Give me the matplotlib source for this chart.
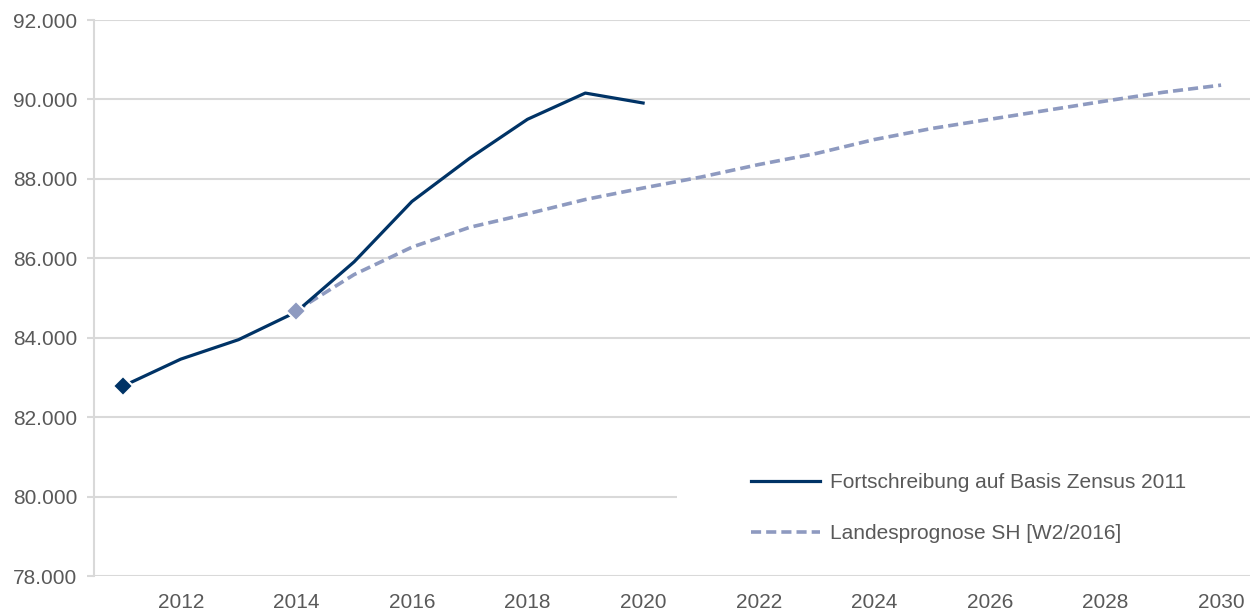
import matplotlib
matplotlib.use("Agg")
import matplotlib.pyplot as plt
from matplotlib.patches import Rectangle
from matplotlib.ticker import FuncFormatter

plt.rcParams['font.family'] = ['Liberation Sans', 'DejaVu Sans']

# Data
years_fort = [2011, 2012, 2013, 2014, 2015, 2016, 2017, 2018, 2019, 2020]
fort_values = [82780, 83460, 83950, 84650, 85910, 87430, 88520, 89500, 90160, 89910]

years_prog = list(range(2014, 2031))
prog_values = [84680, 85590, 86280, 86780, 87120, 87480, 87770, 88045, 88360,
               88640, 88990, 89270, 89500, 89730, 89960, 90180, 90360]

label_fort = "Fortschreibung auf Basis Zensus 2011"
label_prog = "Landesprognose SH [W2/2016]"
xtick_years = list(range(2012, 2031, 2))
ytick_values = list(range(78000, 92001, 2000))

navy = "#003366"
light = "#8E9AC0"
grid_c = "#D9D9D9"
text_c = "#595959"

W, H = 1252, 612
fig = plt.figure(figsize=(W / 100, H / 100), dpi=100)
ax = fig.add_axes([94 / W, 1 - 576 / H, (1250 - 94) / W, (576 - 20) / H])

ax.set_xlim(2010.5, 2030.5)
ax.set_ylim(78000, 92000)

ax.set_yticks(ytick_values)
ax.yaxis.set_major_formatter(FuncFormatter(lambda v, p: f"{int(v):,}".replace(",", ".")))
ax.set_xticks(xtick_years)
ax.set_xticklabels([str(y) for y in xtick_years])

ax.set_axisbelow(True)
ax.grid(axis='y', color=grid_c, linewidth=1.5)
for s in ['top', 'right', 'bottom']:
    ax.spines[s].set_visible(False)
ax.spines['left'].set_color(grid_c)
ax.spines['left'].set_linewidth(1.5)

ax.tick_params(axis='y', length=5, width=1.5, color=grid_c, labelcolor=text_c,
               labelsize=15, pad=7)
ax.tick_params(axis='x', length=0, labelcolor=text_c, labelsize=15, pad=12)

# white box behind legend covering gridline
ax.add_patch(Rectangle(((677 - 94) / 1156, (576 - 560) / 556), (1252 - 677) / 1156,
                       (560 - 455) / 556, transform=ax.transAxes, clip_on=False,
                       facecolor='white', edgecolor='none', zorder=2))

ax.plot(years_prog, prog_values, color=light, linewidth=2.6, dashes=(2.8, 1.4),
        label=label_prog, zorder=3)
ax.plot(years_fort, fort_values, color=navy, linewidth=2.3, label=label_fort,
        zorder=4)

# end markers
ax.plot([years_fort[0]], [fort_values[0]], marker='D', markersize=10, color=navy,
        markeredgecolor='white', markeredgewidth=1.5, linestyle='none', zorder=5)
ax.plot([years_prog[0]], [prog_values[0]], marker='D', markersize=10, color=light,
        markeredgecolor='white', markeredgewidth=1.5, linestyle='none', zorder=5)

handles, labels = ax.get_legend_handles_labels()
order = [1, 0]
leg = fig.legend([handles[i] for i in order], [labels[i] for i in order],
                 loc='center left', bbox_to_anchor=(751 / W, 1 - 508 / H),
                 frameon=False, fontsize=15, handlelength=3.3, handletextpad=0.48,
                 labelspacing=1.55, borderpad=0, borderaxespad=0)
for t in leg.get_texts():
    t.set_color(text_c)

fig.savefig("out.png", dpi=100)
